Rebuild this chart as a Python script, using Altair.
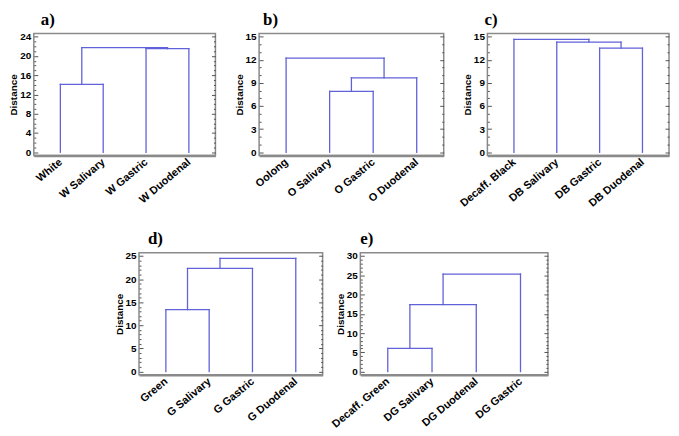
import altair as alt
import pandas as pd

# ---------------- data ----------------
a_labels = ["White", "W Salivary", "W Gastric", "W Duodenal"]
a_merges = [(0, 1), (2, 3), (4, 5)]
a_heights = [14.1, 21.5, 21.7]

b_labels = ["Oolong", "O Salivary", "O Gastric", "O Duodenal"]
b_merges = [(1, 2), (4, 3), (0, 5)]
b_heights = [7.9, 9.65, 12.2]

c_labels = ["Decaff. Black", "DB Salivary", "DB Gastric", "DB Duodenal"]
c_merges = [(2, 3), (1, 4), (0, 5)]
c_heights = [13.5, 14.3, 14.65]

d_labels = ["Green", "G Salivary", "G Gastric", "G Duodenal"]
d_merges = [(0, 1), (4, 2), (5, 3)]
d_heights = [13.4, 22.3, 24.5]

e_labels = ["Decaff. Green", "DG Salivary", "DG Duodenal", "DG Gastric"]
e_merges = [(0, 1), (4, 2), (5, 3)]
e_heights = [6.0, 17.4, 25.3]

# y axis ranges and tick steps
a_ymax, a_step = 24, 4
b_ymax, b_step = 15, 3
c_ymax, c_step = 15, 3
d_ymax, d_step = 25, 5
e_ymax, e_step = 30, 5

LINE = "#6161da"
FRAME = "#8a8a8a"
TICK = "#555555"
SANS = "Liberation Sans"


def segments(merges, heights, n=4):
    xs = {i: float(i) for i in range(n)}
    hs = {i: 0.0 for i in range(n)}
    rows = []
    for k, ((l, r), h) in enumerate(zip(merges, heights)):
        rows.append(dict(x=xs[l], x2=xs[l], y=hs[l], y2=h))
        rows.append(dict(x=xs[r], x2=xs[r], y=hs[r], y2=h))
        rows.append(dict(x=xs[l], x2=xs[r], y=h, y2=h))
        xs[n + k] = (xs[l] + xs[r]) / 2
        hs[n + k] = h
    return pd.DataFrame(rows)


def panel(labels, merges, heights, ymax, step, letter, width, height, dx):
    seg = segments(merges, heights)
    pad = ymax * 0.028
    ydom = [-pad, ymax + pad]
    yscale = alt.Scale(domain=ydom, nice=False, zero=False)
    xscale = alt.Scale(domain=[-0.62, 3.62], nice=False, zero=False)
    majors = list(range(0, ymax + 1, step))
    minors = [v for v in range(0, ymax + 1) if v % step != 0]
    arr = "[" + ",".join("'" + s + "'" for s in labels) + "]"

    lines = alt.Chart(seg).mark_rule(color=LINE, strokeWidth=1.3, strokeCap="square").encode(
        x=alt.X("x:Q", scale=xscale, axis=alt.Axis(
            values=[0, 1, 2, 3], labelExpr=arr + "[datum.value]", ticks=False, grid=False,
            domainColor=FRAME, domainWidth=2.5, labelAngle=-40, labelAlign="right",
            labelBaseline="middle", labelPadding=5, labelFont=SANS, labelFontSize=11,
            labelFontWeight="bold", labelColor="black", labelOverlap=False, title=None)),
        x2="x2:Q",
        y=alt.Y("y:Q", scale=yscale, axis=alt.Axis(
            orient="left", values=majors, ticks=False, domain=False, grid=False,
            labelFont=SANS, labelFontSize=10, labelFontWeight="bold", labelColor="black",
            labelPadding=3, title="Distance", titleFont=SANS, titleFontSize=10,
            titleFontWeight="bold", titleColor="black", titlePadding=1)),
        y2="y2:Q",
    )

    def tick_layer(vals, orient, size):
        df = pd.DataFrame({"v": vals, "x": [0.0] * len(vals)})
        return alt.Chart(df).mark_point(opacity=0).encode(
            x=alt.X("x:Q", scale=xscale, axis=None),
            y=alt.Y("v:Q", scale=yscale, axis=alt.Axis(
                orient=orient, values=vals, offset=-size, tickSize=size, tickColor=TICK,
                tickWidth=1, labels=False, domain=False, grid=False, title=None)))

    layers = [lines,
              tick_layer(majors, "left", 4), tick_layer(minors, "left", 2),
              tick_layer(majors, "right", 4), tick_layer(minors, "right", 2)]
    return alt.layer(*layers).resolve_axis(x="independent", y="independent").properties(
        width=width, height=height,
        title=alt.TitleParams(text=letter, anchor="start", frame="group",
                              font="Liberation Serif", fontSize=17, fontWeight="bold",
                              color="black", offset=3, dx=dx))


pa = panel(a_labels, a_merges, a_heights, a_ymax, a_step, "a)", 183, 123, 7)
pb = panel(b_labels, b_merges, b_heights, b_ymax, b_step, "b)", 186, 123, 4)
pc = panel(c_labels, c_merges, c_heights, c_ymax, c_step, "c)", 183, 123, -3)
pd_ = panel(d_labels, d_merges, d_heights, d_ymax, d_step, "d)", 185, 123, 9)
pe = panel(e_labels, e_merges, e_heights, e_ymax, e_step, "e)", 189, 123, 0)

spacer = alt.Chart(pd.DataFrame({"s": [0.0]})).mark_point(opacity=0).encode(
    x=alt.X("s:Q", axis=None), y=alt.Y("s:Q", axis=None)
).properties(width=68, height=123, view=alt.ViewBackground(stroke="transparent"))

top = alt.hconcat(pa, pb, pc, spacing=44, bounds="flush")
bottom = alt.hconcat(spacer, pd_, pe, spacing=38, bounds="flush")

chart = alt.vconcat(top, bottom, spacing=20).properties(
    padding=0, background="white"
).configure_view(stroke=FRAME, strokeWidth=1.5)

chart.save("out.html", embed_options={"renderer": "svg", "actions": False})
